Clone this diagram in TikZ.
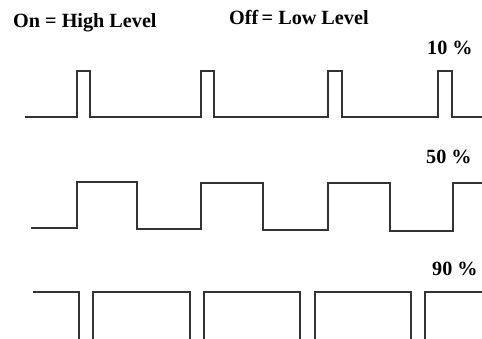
\documentclass[tikz,border=0pt]{standalone}
\usepackage{fontspec}
\setmainfont{Liberation Serif}
\begin{document}
\begin{tikzpicture}[x=1pt,y=-1pt,
  wave/.style={draw=black!80,line width=1.6pt,line join=miter},
  lbl/.style={inner sep=0pt,anchor=base west,font=\fontsize{20.2}{22}\selectfont\bfseries}]
\useasboundingbox (0,0) rectangle (482,339);
\clip (0,0) rectangle (482,339);
\node[lbl] (on) at (13,28) {On = High Level};
\node[lbl] (off) at (229,25) {Off\,= Low Level};
\node[lbl] (p10) at (427,55) {10 \%};
\node[lbl] (p50) at (426,164) {50 \%};
\node[lbl] (p90) at (432,276) {90 \%};
% 10 %
\draw[wave] (25,117) -- (77,117) -- (77,71) -- (90,71) -- (90,117) -- (201,117) -- (201,71) -- (214,71) -- (214,117)
  -- (328,117) -- (328,71) -- (342,71) -- (342,117) -- (438,117) -- (438,71) -- (452,71) -- (452,117) -- (485,117);
% 50 %
\draw[wave] (31,228) -- (77,228) -- (77,182) -- (137,182) -- (137,229) -- (201,229) -- (201,183) -- (263,183) -- (263,230)
  -- (328,230) -- (328,183) -- (390,183) -- (390,231) -- (453,231) -- (453,183) -- (485,183);
% 90 %
\draw[wave] (33,292) -- (79,292) -- (79,345);
\draw[wave] (93,345) -- (93,292) -- (190,292) -- (190,345);
\draw[wave] (204,345) -- (204,292) -- (300,292) -- (300,345);
\draw[wave] (315,345) -- (315,292) -- (411,292) -- (411,345);
\draw[wave] (425,345) -- (425,292) -- (485,292);
\end{tikzpicture}
\end{document}
